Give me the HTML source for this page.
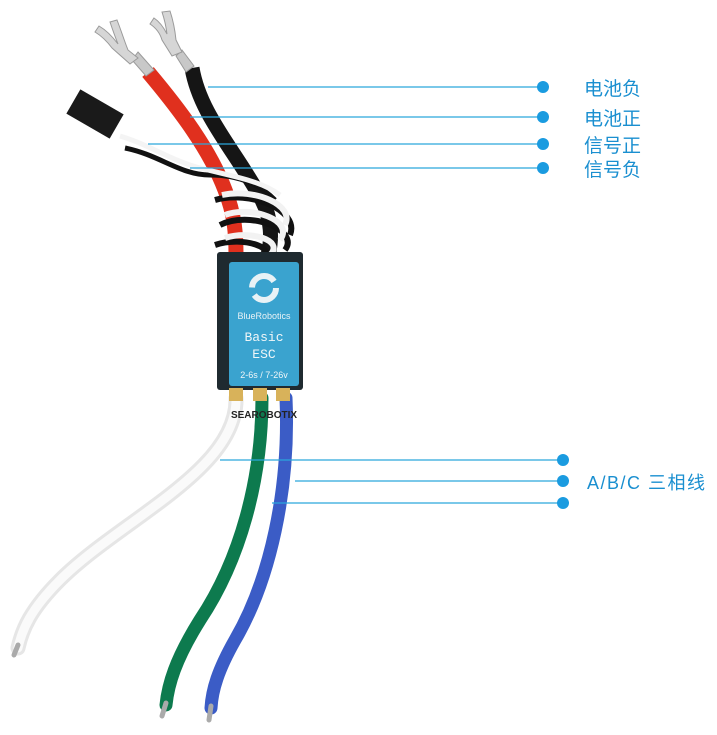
<!DOCTYPE html>
<html><head><meta charset="utf-8"><style>
body{margin:0;background:#fff;}
svg{display:block;}
</style></head><body>
<svg width="717" height="735" viewBox="0 0 717 735" xmlns="http://www.w3.org/2000/svg">
<!-- bottom wires -->
<path d="M236,398 C238,470 120,520 60,580 C30,610 22,630 18,648" stroke="#e6e6e6" stroke-width="15" fill="none" stroke-linecap="round"/>
<path d="M236,398 C238,470 120,520 60,580 C30,610 22,630 18,648" stroke="#fafafa" stroke-width="9" fill="none" stroke-linecap="round"/>
<path d="M262,398 C262,480 240,560 200,620 C175,660 168,685 166,705" stroke="#0d7a4e" stroke-width="13" fill="none" stroke-linecap="round"/>
<path d="M286,398 C290,490 270,580 235,640 C218,670 212,690 211,708" stroke="#3b5cc6" stroke-width="13" fill="none" stroke-linecap="round"/>
<path d="M18,645 L14,655" stroke="#aaa" stroke-width="5" stroke-linecap="round"/>
<path d="M166,703 L162,716" stroke="#aaa" stroke-width="5" stroke-linecap="round"/>
<path d="M211,706 L209,720" stroke="#aaa" stroke-width="5" stroke-linecap="round"/>
<!-- top wires -->
<path d="M192,68 C200,115 235,150 262,200 C272,220 272,240 268,255" stroke="#151515" stroke-width="15" fill="none"/>
<path d="M148,72 C180,110 210,150 225,190 C235,215 236,235 236,255" stroke="#e0301e" stroke-width="15" fill="none"/>
<path d="M125,148 C160,155 180,175 210,175 C240,175 260,185 275,200" stroke="#111" stroke-width="5" fill="none"/>
<path d="M120,136 C150,145 170,160 200,168 C230,176 260,180 280,195" stroke="#f4f4f4" stroke-width="5" fill="none"/>
<path d="M215,200 C250,190 300,210 290,235 M220,225 C250,210 300,230 285,250 M215,245 C245,235 280,250 260,258" stroke="#111" stroke-width="6" fill="none"/>
<path d="M222,195 C255,188 295,205 285,225 M225,215 C250,205 295,220 280,240 M225,238 C250,230 285,240 270,255" stroke="#f2f2f2" stroke-width="6" fill="none"/>
<!-- terminals -->
<g fill="#d6d6d6" stroke="#9a9a9a" stroke-width="1">
<path d="M138,52 L154,70 L146,76 L132,60 Z" fill="#c8c8c8"/>
<path d="M112,48 C106,40 100,35 95,32 L99,26 C106,30 112,36 118,44 C114,34 112,28 110,22 L117,20 C121,30 124,40 128,50 L138,58 L130,64 Z"/>
<path d="M182,50 L194,66 L186,72 L176,56 Z" fill="#c8c8c8"/>
<path d="M162,40 C160,33 156,28 150,24 L154,18 C160,22 164,28 167,34 C166,26 164,18 162,12 L170,11 C173,20 175,30 176,40 L182,52 L172,56 Z"/>
</g>
<!-- connector -->
<rect x="70" y="100" width="50" height="28" fill="#1a1a1a" transform="rotate(30 95 114)"/>
<!-- ESC -->
<rect x="217" y="252" width="86" height="138" rx="3" fill="#1f2a30"/>
<rect x="229" y="262" width="70" height="124" rx="3" fill="#3aa3cf"/>
<circle cx="264" cy="288" r="12" fill="none" stroke="#e8f2f6" stroke-width="6" stroke-dasharray="30 8"/>
<text x="264" y="319" font-family="Liberation Sans,sans-serif" font-size="9" fill="#e8f2f6" text-anchor="middle">BlueRobotics</text>
<text x="264" y="341" font-family="Liberation Mono,monospace" font-size="13" fill="#f0f6f8" text-anchor="middle">Basic</text>
<text x="264" y="358" font-family="Liberation Mono,monospace" font-size="13" fill="#f0f6f8" text-anchor="middle">ESC</text>
<text x="264" y="378" font-family="Liberation Sans,sans-serif" font-size="9" fill="#f0f6f8" text-anchor="middle">2-6s / 7-26v</text>
<rect x="229" y="388" width="14" height="13" fill="#d8b25a"/>
<rect x="253" y="388" width="14" height="13" fill="#d8b25a"/>
<rect x="276" y="388" width="14" height="13" fill="#d8b25a"/>
<text x="264" y="418" font-family="Liberation Sans,sans-serif" font-size="10" font-weight="bold" fill="#222" text-anchor="middle">SEAROBOTIX</text>
<!-- label lines -->
<g stroke="#2aa6dc" stroke-width="1.2">
<line x1="208" y1="87" x2="543" y2="87"/>
<line x1="190" y1="117" x2="543" y2="117"/>
<line x1="148" y1="144" x2="543" y2="144"/>
<line x1="190" y1="168" x2="543" y2="168"/>
<line x1="220" y1="460" x2="563" y2="460"/>
<line x1="295" y1="481" x2="563" y2="481"/>
<line x1="272" y1="503" x2="563" y2="503"/>
</g>
<g fill="#1a9be0">
<circle cx="543" cy="87" r="6"/><circle cx="543" cy="117" r="6"/>
<circle cx="543" cy="144" r="6"/><circle cx="543" cy="168" r="6"/>
<circle cx="563" cy="460" r="6"/><circle cx="563" cy="481" r="6"/><circle cx="563" cy="503" r="6"/>
</g>
<g font-family="Liberation Sans,'Noto Sans CJK SC',sans-serif" font-size="19" fill="#1a8fd0">
<text x="584" y="95">电池负</text>
<text x="584" y="125">电池正</text>
<text x="584" y="152">信号正</text>
<text x="584" y="176">信号负</text>
<text x="587" y="489" font-size="18" letter-spacing="1.5">A/B/C 三相线</text>
</g>
</svg>
</body></html>
